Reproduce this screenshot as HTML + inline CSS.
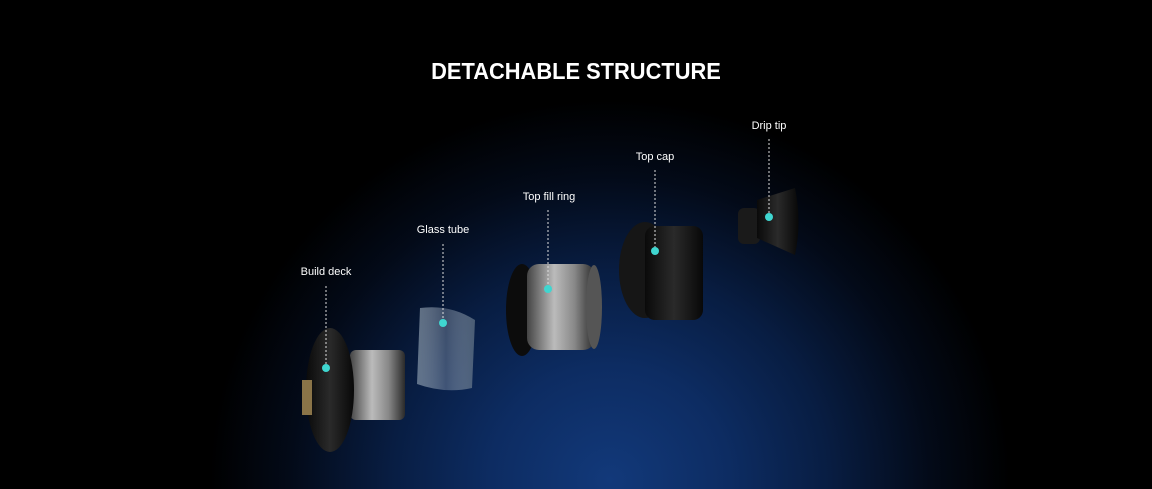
<!DOCTYPE html>
<html><head><meta charset="utf-8"><style>
html,body{margin:0;padding:0;}
body{width:1152px;height:489px;overflow:hidden;position:relative;background:#000;font-family:"Liberation Sans",sans-serif;}
.bg{position:absolute;inset:0;background:radial-gradient(ellipse 400px 380px at 610px 480px,#12397a 0%,#0d2c62 30%,#081d42 55%,#030a18 80%,#000 100%);}
.t{position:absolute;left:0;width:1152px;top:58px;text-align:center;color:#fff;font-weight:bold;font-size:23px;transform:scaleX(0.95);}
.l{position:absolute;color:#fff;font-size:11px;transform:translateX(-50%);white-space:nowrap;}
</style></head><body>
<div class="bg"></div>
<svg width="1152" height="489" style="position:absolute;left:0;top:0">
<defs>
<linearGradient id="silver" x1="0" x2="1"><stop offset="0" stop-color="#444"/><stop offset=".4" stop-color="#bbb"/><stop offset=".7" stop-color="#888"/><stop offset="1" stop-color="#2a2a2a"/></linearGradient>
<linearGradient id="blk" x1="0" x2="1"><stop offset="0" stop-color="#0a0a0a"/><stop offset=".5" stop-color="#2a2a2a"/><stop offset="1" stop-color="#080808"/></linearGradient>
<linearGradient id="glass" x1="0" x2="1"><stop offset="0" stop-color="#8899aa"/><stop offset=".5" stop-color="#c8d4e2" stop-opacity=".4"/><stop offset="1" stop-color="#667788" /></linearGradient>
</defs>
<rect x="350" y="350" width="55" height="70" rx="6" fill="url(#silver)"/>
<ellipse cx="330" cy="390" rx="24" ry="62" fill="url(#blk)"/>
<rect x="302" y="380" width="10" height="35" fill="#8a7448"/>
<path d="M420 308 Q450 304 475 320 L472 388 Q445 394 417 384 Z" fill="url(#glass)" opacity=".7"/>
<ellipse cx="522" cy="310" rx="16" ry="46" fill="#0c0c0c"/>
<rect x="527" y="264" width="68" height="86" rx="12" fill="url(#silver)"/>
<ellipse cx="594" cy="307" rx="8" ry="42" fill="#555"/>
<ellipse cx="645" cy="270" rx="26" ry="48" fill="#161616"/>
<rect x="645" y="226" width="58" height="94" rx="10" fill="url(#blk)"/>
<rect x="738" y="208" width="22" height="36" rx="6" fill="#1a1a1a"/>
<path d="M757 200 L795 188 Q802 222 795 255 L757 238 Z" fill="url(#blk)"/>
<g stroke="#ddd" stroke-width="1" stroke-dasharray="2,2">
<line x1="326" y1="286" x2="326" y2="368"/>
<line x1="443" y1="244" x2="443" y2="323"/>
<line x1="548" y1="210" x2="548" y2="289"/>
<line x1="655" y1="170" x2="655" y2="251"/>
<line x1="769" y1="139" x2="769" y2="217"/>
</g>
<g fill="#3fd6d0">
<circle cx="326" cy="368" r="4"/><circle cx="443" cy="323" r="4"/><circle cx="548" cy="289" r="4"/><circle cx="655" cy="251" r="4"/><circle cx="769" cy="217" r="4"/>
</g>
</svg>
<div class="t">DETACHABLE STRUCTURE</div>
<div class="l" style="left:326px;top:266px">Build deck</div>
<div class="l" style="left:443px;top:224px">Glass tube</div>
<div class="l" style="left:549px;top:191px">Top fill ring</div>
<div class="l" style="left:655px;top:151px">Top cap</div>
<div class="l" style="left:769px;top:120px">Drip tip</div>
</body></html>
